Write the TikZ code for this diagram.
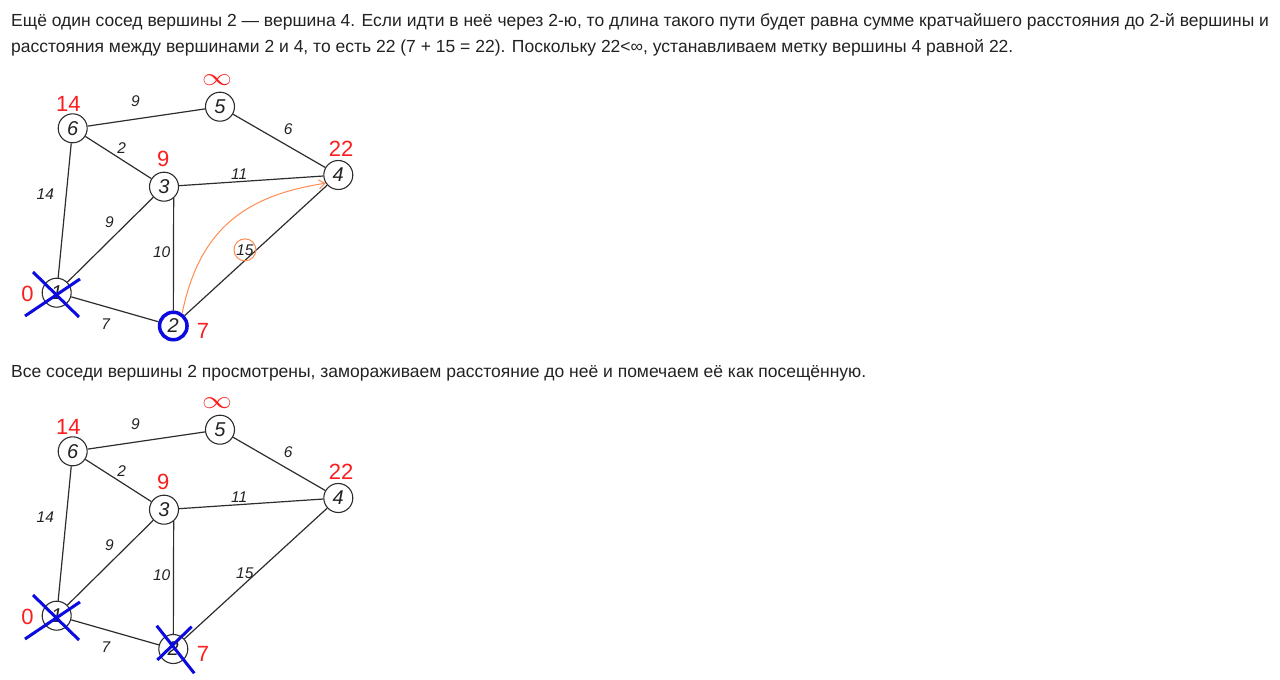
\documentclass[tikz,border=0pt]{standalone}
\usepackage{fontspec}
\setmainfont{Liberation Sans}
\usetikzlibrary{arrows.meta}
\definecolor{ink}{RGB}{34,34,34}
\definecolor{edgegray}{RGB}{45,45,45}
\definecolor{distred}{RGB}{250,30,30}
\definecolor{markblue}{RGB}{10,10,225}
\definecolor{pathorange}{RGB}{255,140,80}
\tikzset{
  vtx/.style={circle,draw=edgegray,line width=1.1pt,minimum size=29pt,inner sep=0pt,
    font=\fontsize{20}{20}\selectfont\itshape,text=ink},
  cur/.style={vtx,draw=markblue,line width=3.5pt,minimum size=27.5pt},
  wt/.style={font=\fontsize{15.5}{15.5}\selectfont\itshape,text=ink,inner sep=0pt},
  ring/.style={wt,circle,draw=pathorange,line width=1pt,minimum size=22pt},
  dist/.style={font=\fontsize{22}{22}\selectfont,text=distred,inner sep=0pt},
  edge/.style={draw=edgegray,line width=1.2pt},
  cross/.style={draw=markblue,line width=3pt},
  txt/.style={anchor=base west,inner sep=0pt,font=\fontsize{17.5}{20}\selectfont,text=ink},
}
\begin{document}
\begin{tikzpicture}[x=1pt,y=-1pt,>={Straight Barb[length=6pt,width=9pt]}]
  \useasboundingbox (0,0) rectangle (1280,680);
  % text
  \node[txt] (line1) at (11,26) {Ещё один сосед вершины 2 — вершина 4. Если идти в неё через 2-ю, то длина такого пути будет равна сумме кратчайшего расстояния до 2-й вершины и};
  \node[txt] (line2) at (11,52) {расстояния между вершинами 2 и 4, то есть 22 (7 + 15 = 22). Поскольку 22<∞, устанавливаем метку вершины 4 равной 22.};
  \node[txt] (line3) at (11,377) {Все соседи вершины 2 просмотрены, замораживаем расстояние до неё и помечаем её как посещённую.};

  \foreach \g/\dy/\two/\fif in {a/0/cur/ring,b/323/vtx/wt}{
  \begin{scope}[shift={(0,\dy)}]
    \path
    (56.7,292.7) node[vtx] (n1\g) {1}
    (173.3,326) node[\two] (n2\g) {2}
    (164,186.7) node[vtx] (n3\g) {3}
    (338.3,175) node[vtx] (n4\g) {4}
    (220,106.7) node[vtx] (n5\g) {5}
    (72.7,128.3) node[vtx] (n6\g) {6};
    \coordinate (t3\g) at (n3\g.-50);

    % distances
    \node[dist] (d1\g) at (27.5,294) {0};
    \node[dist] (d2\g) at (203,330.5) {7};
    \node[dist] (d3\g) at (163.3,158.5) {9};
    \node[dist] (d4\g) at (341,149.3) {22};
    \node[dist,font=\fontsize{44}{44}\selectfont,xscale=1.2] (d5\g) at (217,80) {$\infty$};
    \node[dist] (d6\g) at (68.3,104) {14};

    \draw[edge] (n6\g)--(n5\g) node[wt,midway,xshift=-11pt,yshift=16pt]{9};
    \draw[edge] (n5\g)--(n4\g) node[wt,midway,xshift=9pt,yshift=11.5pt]{6};
    \draw[edge] (n6\g)--(n3\g) node[wt,midway,xshift=3.4pt,yshift=9.2pt]{2};
    \draw[edge] (n3\g)--(n4\g) node[wt,midway,xshift=-12pt,yshift=6.5pt]{11};
    \draw[edge] (n6\g)--(n1\g) node[wt,midway,xshift=-19.4pt,yshift=16.5pt]{14};
    \draw[edge] (n1\g)--(n3\g) node[wt,midway,xshift=-1pt,yshift=18pt]{9};
    \draw[edge] (t3\g)--(n2\g) node[wt,midway,xshift=-11.8pt,yshift=2pt]{10};
    \draw[edge] (n2\g)--(n4\g) node[\fif,midway,xshift=-11pt,yshift=0.5pt]{15};
    \draw[edge] (n1\g)--(n2\g) node[wt,midway,xshift=-9pt,yshift=-14.7pt]{7};

    \draw[cross] (n1\g.center) +(-31.7,23.3) -- +(23.3,-13.7) +(-23.7,-20.7) -- +(22.3,24.3);
  \end{scope}
  }

  % step to vertex 4
  \draw[->,pathorange,line width=1pt] (n2a.55) .. controls (200,225) and (250,195) .. (n4a.213);
  % vertex 2 done
  \draw[cross] (n2b.center) +(-16,11) -- +(18.4,-22.3) +(-16.6,-23.3) -- +(21,24.3);
\end{tikzpicture}
\end{document}
